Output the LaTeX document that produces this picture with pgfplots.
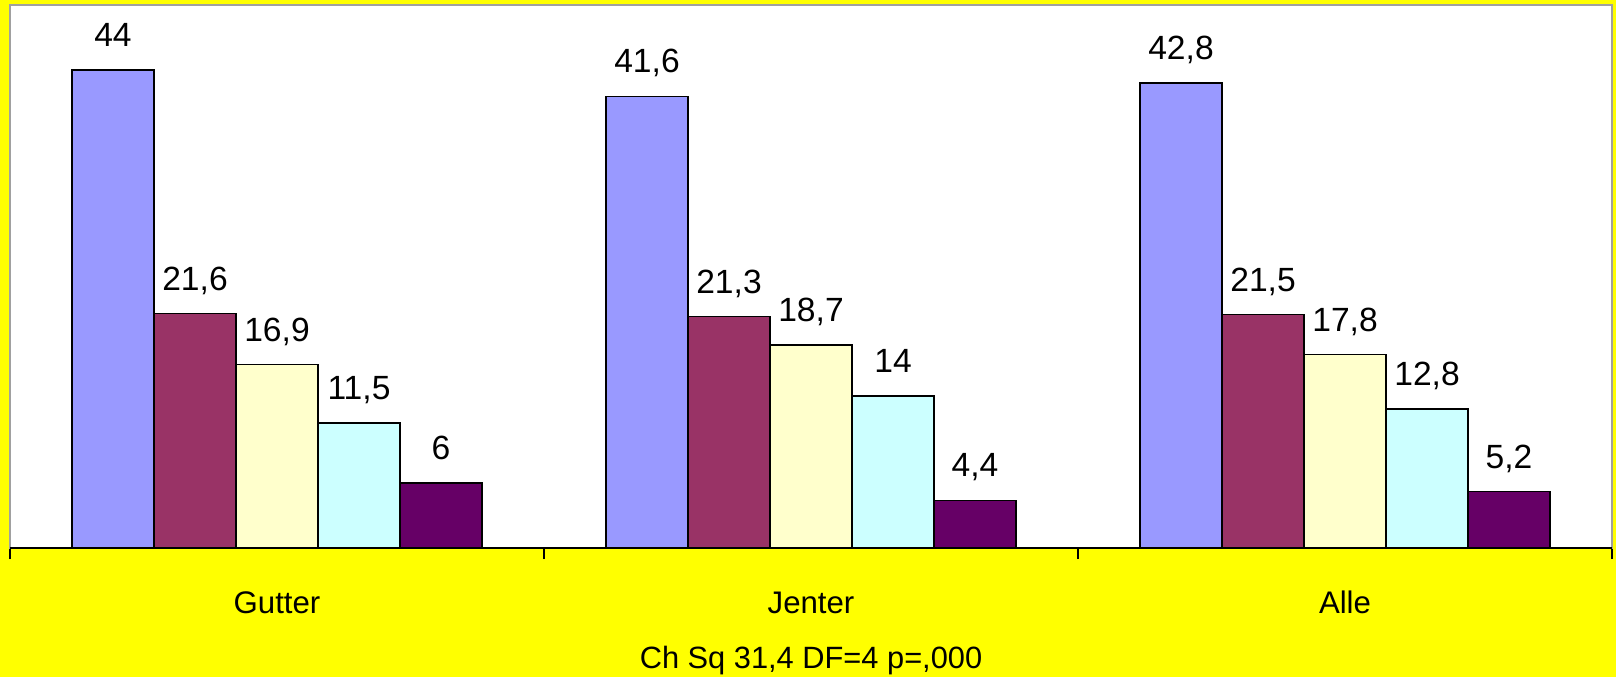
\documentclass[border=0pt]{standalone}
\usepackage{fontspec}
\setmainfont{Liberation Sans}
\usepackage{pgfplots}
\usepackage{pgfplotstable}
\pgfplotsset{compat=1.18}

\definecolor{bgyellow}{HTML}{FFFF00}
\definecolor{sa}{HTML}{9999FF}
\definecolor{sb}{HTML}{993366}
\definecolor{sc}{HTML}{FFFFCC}
\definecolor{sd}{HTML}{CCFFFF}
\definecolor{se}{HTML}{660066}
\definecolor{frame}{HTML}{A0A0A0}

% groups: 0 = Gutter, 1 = Jenter, 2 = Alle
\pgfplotstableread{
x  a     b     c     d     e
0  44    21.6  16.9  11.5  6
1  41.6  21.3  18.7  14    4.4
2  42.8  21.5  17.8  12.8  5.2
}\shares

\begin{document}
\begin{tikzpicture}[font=\fontsize{15.4}{18}\selectfont]
\path[use as bounding box] (0,0) rectangle (808pt,338.5pt);
\fill[bgyellow] (0,0) rectangle (808pt,338.5pt);
\begin{axis}[
    at={(5pt,64.5pt)}, anchor=south west,
    scale only axis,
    width=801pt, height=271.5pt,
    xmin=-0.5, xmax=2.5,
    ymin=0, ymax=50,
    ybar=0pt, bar width=41pt,
    axis background/.style={fill=white},
    axis line style={draw=frame, line width=0.8pt},
    ytick=\empty,
    xtick={0,1,2},
    xticklabels={Gutter,Jenter,Alle},
    minor xtick={-0.5,0.5,1.5,2.5},
    major tick length=0pt,
    minor tick length=5.5pt,
    xtick align=outside,
    xtick pos=bottom,
    every minor tick/.style={black, line width=0.8pt},
    xticklabel style={anchor=base, yshift=-32.5pt, font=\fontsize{15.6}{18}\selectfont},
    /pgf/number format/.cd, use comma, assume math mode=true, 1000 sep={},
    /pgfplots/.cd,
    nodes near coords,
    every node near coord/.append style={anchor=base, yshift=11.7pt, black,
        font=\fontsize{16.8}{19}\selectfont},
    clip=false,
    every axis plot/.append style={draw=black, line width=0.7pt},
]
\addplot[fill=sa] table[x=x, y=a] {\shares};
\addplot[fill=sb] table[x=x, y=b] {\shares};
\addplot[fill=sc] table[x=x, y=c] {\shares};
\addplot[fill=sd] table[x=x, y=d] {\shares};
\addplot[fill=se] table[x=x, y=e] {\shares};
\draw[black, line width=0.8pt] (rel axis cs:0,0) -- (rel axis cs:1,0);
\end{axis}
\node[anchor=base] at (405.5pt,4.5pt) {Ch Sq 31,4 DF=4 p=,000};
\end{tikzpicture}
\end{document}
